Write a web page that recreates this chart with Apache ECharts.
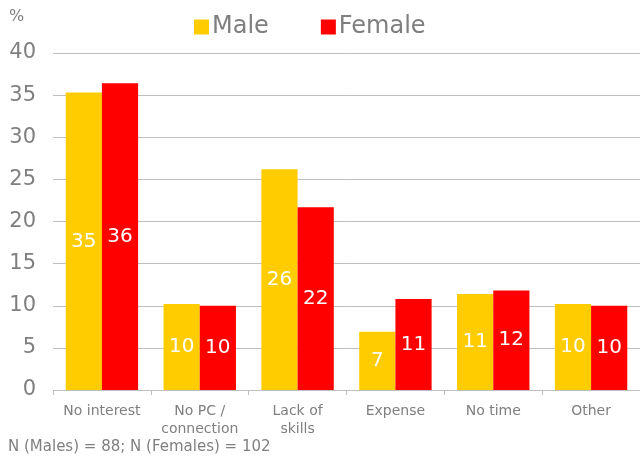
<!DOCTYPE html>
<html>
<head>
<meta charset="utf-8">
<script src="https://cdn.jsdelivr.net/npm/echarts@6/dist/echarts.min.js"></script>
<style>
  html, body { margin: 0; padding: 0; background: #fff; }
  #chart { width: 640px; height: 459px; }
</style>
</head>
<body>
<div id="chart"></div>
<script>
// categories and values
const categories = ["No interest", "No PC /\nconnection", "Lack of\nskills", "Expense", "No time", "Other"];
const male = [35.3, 10.2, 26.2, 6.9, 11.4, 10.2];
const female = [36.4, 10.0, 21.7, 10.8, 11.8, 10.0];
const yTicks = [0, 5, 10, 15, 20, 25, 30, 35, 40];

const font = "DejaVu Sans";
const grey = "#7f7f7f";

let myChart = echarts.init(document.getElementById("chart"));

const valueLabel = {
  show: true,
  position: "inside",
  color: "#fff",
  fontSize: 20,
  fontFamily: font,
  formatter: p => Math.round(p.value)
};

let option = {
  animation: false,
  textStyle: { fontFamily: font },
  graphic: [
    { type: "text", left: 9, top: 9, style: { text: "%", fontSize: 16, fill: grey, fontFamily: font } },
    { type: "text", left: 8, top: 440, style: { text: "N (Males) = 88; N (Females) = 102", fontSize: 15, fill: grey, fontFamily: font } }
  ],
  legend: {
    top: 10,
    left: 189,
    itemWidth: 15,
    itemHeight: 15,
    itemGap: 52,
    icon: "rect",
    textStyle: { fontSize: 24, color: grey, fontFamily: font, padding: [0, 0, 0, -2] },
    data: ["Male", "Female"]
  },
  grid: { left: 53, right: -4, top: 53, bottom: 69 },
  xAxis: {
    type: "category",
    data: categories,
    axisLine: { lineStyle: { color: "#bfbfbf" } },
    axisTick: { show: true, length: 5, lineStyle: { color: "#bfbfbf" } },
    axisLabel: { interval: 0, hideOverlap: false, color: grey, fontSize: 14, fontFamily: font, margin: 12, lineHeight: 18 }
  },
  yAxis: {
    type: "value",
    min: yTicks[0],
    max: yTicks[yTicks.length - 1],
    interval: 5,
    axisLine: { show: false },
    axisTick: { show: false },
    splitLine: { lineStyle: { color: "#bfbfbf", width: 1 } },
    axisLabel: { color: grey, fontSize: 21, fontFamily: font, margin: 17 }
  },
  series: [
    {
      name: "Male",
      type: "bar",
      data: male,
      barGap: "0%",
      barCategoryGap: "26%",
      itemStyle: { color: "#ffcc00" },
      label: valueLabel
    },
    {
      name: "Female",
      type: "bar",
      data: female,
      itemStyle: { color: "#ff0000" },
      label: valueLabel
    }
  ]
};

myChart.setOption(option);
</script>
</body>
</html>
